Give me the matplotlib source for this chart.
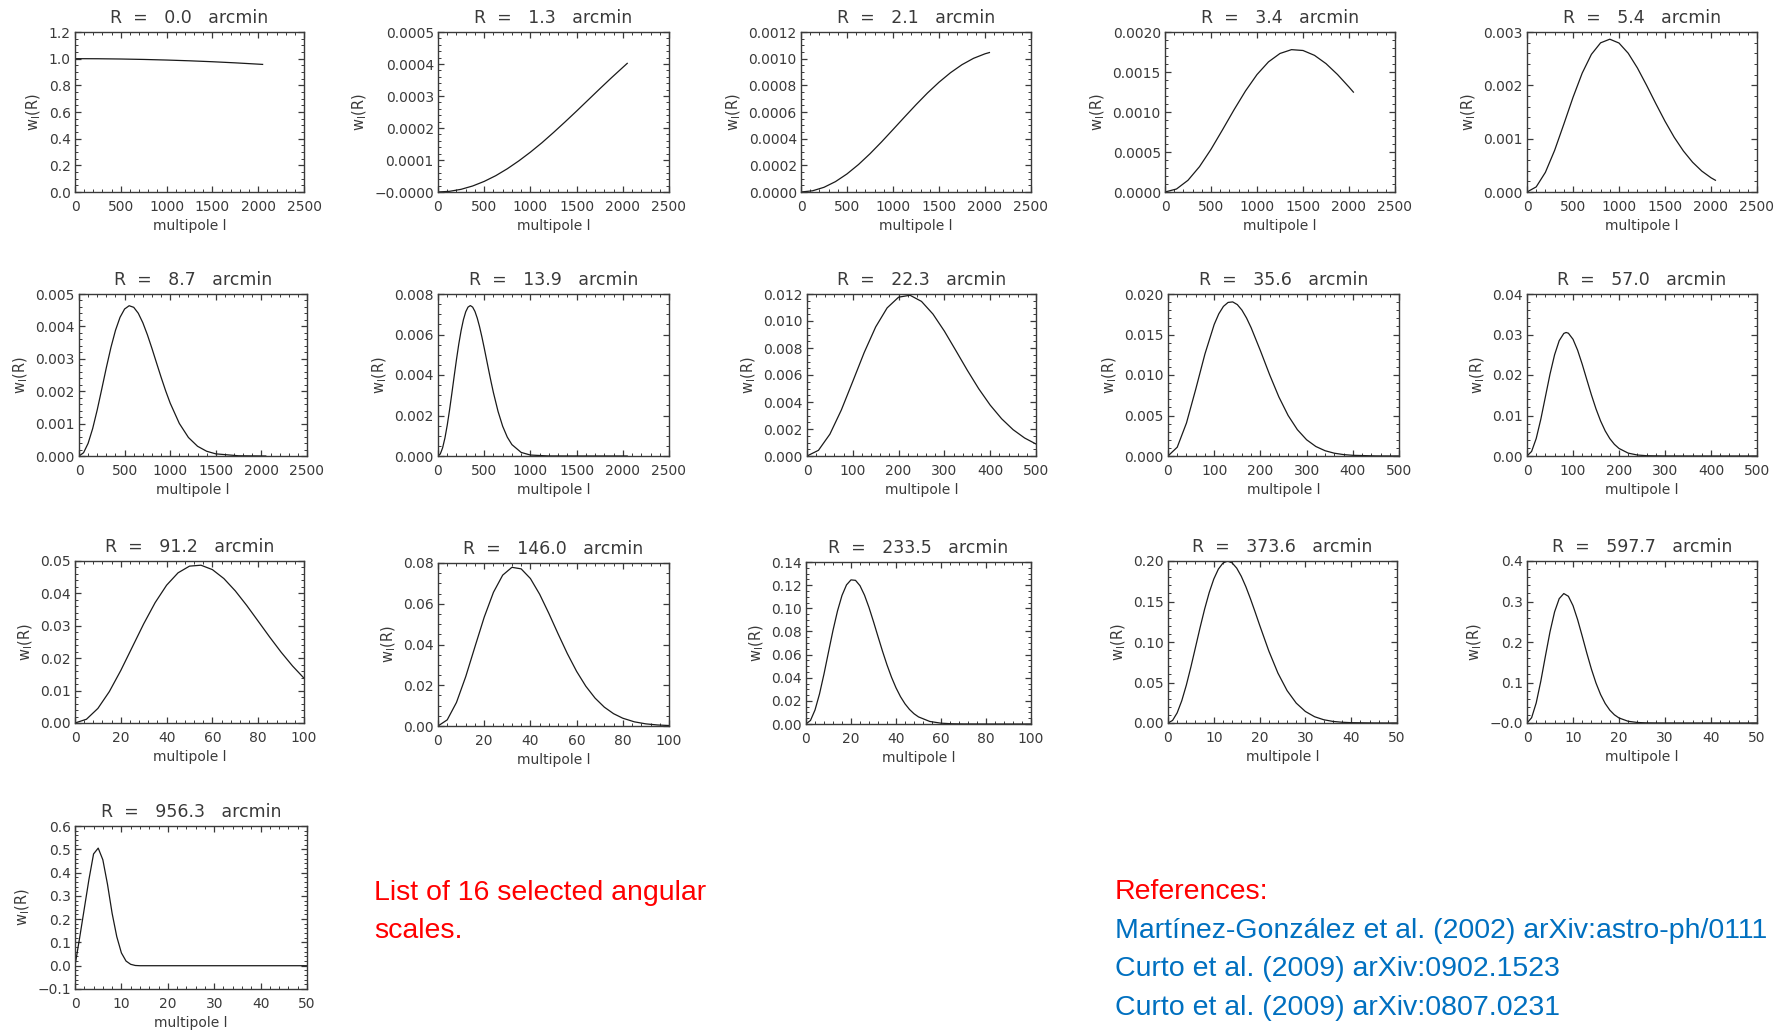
import numpy as np
import matplotlib.pyplot as plt
from matplotlib.ticker import AutoMinorLocator

plt.rcParams['font.family'] = ['DejaVu Sans']

# angular scales (arcmin)
radii = [0.0, 1.3, 2.1, 3.4, 5.4, 8.7, 13.9, 22.3, 35.6, 57.0,
         91.2, 146.0, 233.5, 373.6, 597.7, 956.3]

# multipole samples and window values w_l(R)
ell_a = [0, 250, 500, 750, 1000, 1250, 1500, 1750, 2048]
ell_b = [0, 125, 250, 375, 500, 625, 750, 875, 1000, 1125, 1250, 1375,
         1500, 1625, 1750, 1875, 2000, 2048]
ell_p = [0, 100, 200, 300, 400, 500, 600, 700, 800, 900, 1000, 1100, 1200,
         1300, 1400, 1500, 1600, 1700, 1800, 1900, 2000, 2048]
ell_c = [0, 50, 100, 150, 200, 250, 300, 350, 400, 450, 500, 550, 600, 650,
         700, 750, 800, 850, 900, 950, 1000, 1100, 1200, 1300, 1400, 1500,
         1750, 2048]
ell_d = [0, 25, 50, 75, 100, 125, 150, 175, 200, 225, 250, 275, 300, 325,
         350, 375, 400, 425, 450, 475, 500, 525, 550, 575, 600, 650, 700,
         750, 800, 900, 1000, 1200, 1500, 2048]
ell_e = [0, 25, 50, 75, 100, 125, 150, 175, 200, 225, 250, 275, 300, 325,
         350, 375, 400, 425, 450, 475, 500]
ell_f = [0, 20, 40, 60, 80, 100, 110, 120, 130, 140, 150, 160, 170, 180,
         200, 220, 240, 260, 280, 300, 320, 340, 360, 380, 400, 450, 500]
ell_g = [0, 10, 20, 30, 40, 50, 60, 70, 80, 85, 90, 100, 110, 120, 130,
         140, 150, 160, 170, 180, 190, 200, 220, 240, 260, 300, 400, 500]
ell_h = [0, 5, 10, 15, 20, 25, 30, 35, 40, 45, 50, 55, 60, 65, 70, 75, 80,
         85, 90, 95, 100]
ell_i = [0, 4, 8, 12, 16, 20, 24, 28, 32, 36, 40, 44, 48, 52, 56, 60, 64,
         68, 72, 76, 80, 85, 90, 95, 100]
ell_j = [0, 2, 4, 6, 8, 10, 12, 14, 16, 18, 20, 22, 24, 26, 28, 30, 32, 34,
         36, 38, 40, 42, 44, 46, 48, 50, 55, 60, 65, 70, 80, 100]
ell_k = [0, 1, 2, 3, 4, 5, 6, 7, 8, 9, 10, 11, 12, 13, 14, 15, 16, 17, 18,
         19, 20, 22, 24, 26, 28, 30, 32, 34, 36, 38, 40, 45, 50]
ell_m = [0, 1, 2, 3, 4, 5, 6, 7, 8, 9, 10, 11, 12, 13, 14, 15, 16, 17, 18,
         19, 20, 22, 24, 26, 28, 30, 40, 50]
ell_n = [0, 1, 2, 3, 4, 5, 6, 7, 8, 9, 10, 11, 12, 13, 14, 15, 16, 20, 30,
         40, 50]

w_00 = [1.0, 0.9994, 0.9974, 0.9942, 0.9897, 0.9840, 0.9770, 0.9686, 0.957]
w_01 = [0, 2.1e-6, 8.4e-6, 1.88e-5, 3.31e-5, 5.10e-5, 7.26e-5, 9.73e-5,
        1.245e-4, 1.540e-4, 1.859e-4, 2.190e-4, 2.529e-4, 2.876e-4,
        3.223e-4, 3.564e-4, 3.894e-4, 4.020e-4]
w_02 = [0, 8.9e-6, 3.52e-5, 7.80e-5, 1.356e-4, 2.061e-4, 2.869e-4,
        3.753e-4, 4.683e-4, 5.621e-4, 6.546e-4, 7.428e-4, 8.233e-4,
        8.947e-4, 9.550e-4, 1.0025e-3, 1.0365e-3, 1.0459e-3]
w_03 = [0, 3.75e-5, 1.466e-4, 3.170e-4, 5.334e-4, 7.773e-4, 1.0271e-3,
        1.2631e-3, 1.4682e-3, 1.6268e-3, 1.7317e-3, 1.7794e-3, 1.7688e-3,
        1.7081e-3, 1.6048e-3, 1.4687e-3, 1.3117e-3, 1.2484e-3]
w_04 = [0, 9.57e-5, 3.689e-4, 7.797e-4, 1.2706e-3, 1.774e-3, 2.229e-3,
        2.581e-3, 2.797e-3, 2.865e-3, 2.793e-3, 2.602e-3, 2.326e-3,
        2.000e-3, 1.658e-3, 1.327e-3, 1.026e-3, 7.69e-4, 5.58e-4, 3.92e-4,
        2.67e-4, 2.20e-4]
w_05 = [0, 1.01e-4, 3.92e-4, 8.48e-4, 1.426e-3, 2.072e-3, 2.731e-3,
        3.349e-3, 3.878e-3, 4.281e-3, 4.537e-3, 4.638e-3, 4.589e-3,
        4.406e-3, 4.113e-3, 3.741e-3, 3.319e-3, 2.874e-3, 2.433e-3,
        2.013e-3, 1.631e-3, 1.005e-3, 5.71e-4, 3.00e-4, 1.46e-4, 6.6e-5,
        7e-6, 0]
w_06 = [0, 1.03e-4, 4.05e-4, 8.88e-4, 1.523e-3, 2.273e-3, 3.094e-3,
        3.940e-3, 4.765e-3, 5.531e-3, 6.193e-3, 6.730e-3, 7.121e-3,
        7.353e-3, 7.428e-3, 7.352e-3, 7.138e-3, 6.806e-3, 6.380e-3,
        5.882e-3, 5.339e-3, 4.772e-3, 4.204e-3, 3.650e-3, 3.125e-3,
        2.199e-3, 1.468e-3, 9.31e-4, 5.62e-4, 1.77e-4, 4.7e-5, 2e-6, 0, 0]
w_07 = [0, 4.21e-4, 1.619e-3, 3.410e-3, 5.529e-3, 7.675e-3, 9.564e-3,
        1.0972e-2, 1.1765e-2, 1.1908e-2, 1.1451e-2, 1.0514e-2, 9.247e-3,
        7.810e-3, 6.353e-3, 4.979e-3, 3.769e-3, 2.757e-3, 1.950e-3,
        1.336e-3, 8.87e-4]
w_08 = [0, 1.087e-3, 4.077e-3, 8.240e-3, 1.2607e-2, 1.6240e-2, 1.7557e-2,
        1.8472e-2, 1.8958e-2, 1.9024e-2, 1.8694e-2, 1.8012e-2, 1.7037e-2,
        1.5829e-2, 1.3004e-2, 1.0032e-2, 7.289e-3, 5.004e-3, 3.252e-3,
        2.004e-3, 1.173e-3, 6.52e-4, 3.45e-4, 1.74e-4, 8.4e-5, 1.1e-5, 0]
w_09 = [0, 1.124e-3, 4.315e-3, 9.063e-3, 1.4633e-2, 2.0205e-2, 2.5010e-2,
        2.8474e-2, 3.0259e-2, 3.0497e-2, 3.0317e-2, 2.8825e-2, 2.6131e-2,
        2.2670e-2, 1.8866e-2, 1.5099e-2, 1.1635e-2, 8.644e-3, 6.198e-3,
        4.295e-3, 2.879e-3, 1.866e-3, 7.11e-4, 2.39e-4, 7.1e-5, 3e-6, 0, 0]
w_10 = [0, 1.157e-3, 4.506e-3, 9.703e-3, 1.6220e-2, 2.3413e-2, 3.0606e-2,
        3.7158e-2, 4.2531e-2, 4.6352e-2, 4.8415e-2, 4.8701e-2, 4.7342e-2,
        4.4587e-2, 4.0773e-2, 3.6273e-2, 3.1415e-2, 2.6538e-2, 2.1865e-2,
        1.7592e-2, 1.3830e-2]
w_11 = [0, 3.020e-3, 1.1569e-2, 2.4218e-2, 3.8917e-2, 5.3400e-2, 6.5613e-2,
        7.4035e-2, 7.7883e-2, 7.7122e-2, 7.2388e-2, 6.4674e-2, 5.5237e-2,
        4.5200e-2, 3.5511e-2, 2.6819e-2, 1.9507e-2, 1.3682e-2, 9.252e-3,
        6.048e-3, 3.819e-3, 2.046e-3, 1.043e-3, 5.04e-4, 2.33e-4]
w_12 = [0, 3.105e-3, 1.2080e-2, 2.5955e-2, 4.3256e-2, 6.2200e-2, 8.0930e-2,
        9.7701e-2, 0.111111, 0.120213, 0.124549, 0.124155, 0.119504,
        0.111354, 0.100676, 8.8428e-2, 7.5582e-2, 6.2939e-2, 5.1088e-2,
        4.0453e-2, 3.1273e-2, 2.3613e-2, 1.7431e-2, 1.2578e-2, 8.876e-3,
        6.132e-3, 2.209e-3, 6.98e-4, 1.94e-4, 5e-5, 0, 0]
w_13 = [0, 3.190e-3, 1.2536e-2, 2.7386e-2, 4.6712e-2, 6.9210e-2, 9.3391e-2,
        0.117729, 0.140730, 0.161099, 0.177778, 0.190027, 0.197426,
        0.199904, 0.197663, 0.191210, 0.181146, 0.168265, 0.153419,
        0.137418, 0.120932, 8.9114e-2, 6.1603e-2, 4.0042e-2, 2.4542e-2,
        1.4201e-2, 7.768e-3, 4.021e-3, 1.973e-3, 9.18e-4, 4.05e-4, 4e-5, 0]
w_14 = [0, 1.2942e-2, 4.9477e-2, 0.103214, 0.165066, 0.225119, 0.274517,
        0.307000, 0.319627, 0.312876, 0.289840, 0.255328, 0.214652,
        0.172669, 0.133119, 9.8594e-2, 7.0233e-2, 4.8126e-2, 3.1791e-2,
        2.0233e-2, 1.2440e-2, 4.229e-3, 1.256e-3, 3.26e-4, 7.4e-5, 0, 0, 0]
w_15 = [0, 0.12, 0.245, 0.37, 0.48, 0.505, 0.455, 0.35, 0.225, 0.125,
        0.055, 0.02, 0.006, 0.001, 0, 0, 0, 0, 0, 0, 0]

# tick labels
xlab_2500 = ['0', '500', '1000', '1500', '2000', '2500']
xlab_500 = ['0', '100', '200', '300', '400', '500']
xlab_100 = ['0', '20', '40', '60', '80', '100']
xlab_50 = ['0', '10', '20', '30', '40', '50']

ylab = [
    ['0.0', '0.2', '0.4', '0.6', '0.8', '1.0', '1.2'],
    ['\u22120.0000', '0.0001', '0.0002', '0.0003', '0.0004', '0.0005'],
    ['0.0000', '0.0002', '0.0004', '0.0006', '0.0008', '0.0010', '0.0012'],
    ['0.0000', '0.0005', '0.0010', '0.0015', '0.0020'],
    ['0.000', '0.001', '0.002', '0.003'],
    ['0.000', '0.001', '0.002', '0.003', '0.004', '0.005'],
    ['0.000', '0.002', '0.004', '0.006', '0.008'],
    ['0.000', '0.002', '0.004', '0.006', '0.008', '0.010', '0.012'],
    ['0.000', '0.005', '0.010', '0.015', '0.020'],
    ['0.00', '0.01', '0.02', '0.03', '0.04'],
    ['0.00', '0.01', '0.02', '0.03', '0.04', '0.05'],
    ['0.00', '0.02', '0.04', '0.06', '0.08'],
    ['0.00', '0.02', '0.04', '0.06', '0.08', '0.10', '0.12', '0.14'],
    ['0.00', '0.05', '0.10', '0.15', '0.20'],
    ['\u22120.0', '0.1', '0.2', '0.3', '0.4'],
    ['\u22120.1', '0.0', '0.1', '0.2', '0.3', '0.4', '0.5', '0.6'],
]
ylims = [(0, 1.2), (0, 0.0005), (0, 0.0012), (0, 0.002), (0, 0.003),
         (0, 0.005), (0, 0.008), (0, 0.012), (0, 0.02), (0, 0.04),
         (0, 0.05), (0, 0.08), (0, 0.14), (0, 0.2), (0, 0.4), (-0.1, 0.6)]

ells = [ell_a, ell_b, ell_b, ell_b, ell_p, ell_c, ell_d, ell_e, ell_f, ell_g,
        ell_h, ell_i, ell_j, ell_k, ell_m, ell_n]
wins = [w_00, w_01, w_02, w_03, w_04, w_05, w_06, w_07, w_08, w_09,
        w_10, w_11, w_12, w_13, w_14, w_15]
xlabs = [xlab_2500] * 7 + [xlab_500] * 3 + [xlab_100] * 3 + [xlab_50] * 3

# axes boxes in pixels: left, top, right, bottom
boxes = [
    (75, 32, 304, 192), (438, 32, 669, 192), (801, 32, 1031, 192),
    (1165, 32, 1395, 192), (1527, 32, 1757, 192),
    (79, 294, 307, 456), (438, 294, 669, 456), (807, 294, 1036, 456),
    (1168, 294, 1399, 456), (1527, 294, 1757, 456),
    (75, 561, 304, 723), (438, 563, 669, 726), (806, 562, 1031, 724),
    (1168, 561, 1397, 723), (1527, 561, 1757, 723),
    (75, 826, 307, 989),
]

W, H = 1789, 1034
fig = plt.figure(figsize=(W / 100, H / 100), dpi=100)
txt_col = '#3a3a3a'

for i in range(16):
    x0, y0, x1, y1 = boxes[i]
    ax = fig.add_axes([x0 / W, 1 - y1 / H, (x1 - x0) / W, (y1 - y0) / H])
    ax.plot(ells[i], wins[i], color='#1a1a1a', lw=0.9)
    xl = xlabs[i]
    xmax = float(xl[-1])
    ax.set_xlim(0, xmax)
    ax.set_ylim(*ylims[i])
    ax.set_xticks(np.linspace(0, xmax, len(xl)))
    ax.set_xticklabels(xl)
    ax.set_yticks(np.linspace(ylims[i][0], ylims[i][1], len(ylab[i])))
    ax.set_yticklabels(ylab[i])
    ax.xaxis.set_minor_locator(AutoMinorLocator(5))
    ax.yaxis.set_minor_locator(AutoMinorLocator())
    ax.tick_params(which='both', direction='in', top=True, right=True,
                   labelsize=10, color=txt_col, labelcolor=txt_col)
    ax.tick_params(which='major', length=4.5, width=0.9)
    ax.tick_params(which='minor', length=2.2, width=0.7)
    ax.tick_params(axis='x', which='major', pad=5.5)
    ax.tick_params(axis='y', which='major', pad=3)
    for s in ax.spines.values():
        s.set_linewidth(1.0)
        s.set_color(txt_col)
    ax.set_title('R  =   %.1f   arcmin' % radii[i], fontsize=12.5,
                 color=txt_col, pad=6.5)
    ax.set_xlabel('multipole l', fontsize=10, color=txt_col, labelpad=4)
    ax.set_ylabel(r'w$_\mathregular{l}$(R)', fontsize=10.5, color=txt_col,
                  labelpad=4)

note_font = ['Liberation Sans', 'DejaVu Sans']
fig.text(374 / W, 1 - 893 / H, 'List of 16 selected angular', color='red',
         fontsize=20.5, family=note_font, va='center')
fig.text(374 / W, 1 - 931 / H, 'scales.', color='red',
         fontsize=20.5, family=note_font, va='center')

refs = ['Mart\u00ednez-Gonz\u00e1lez et al. (2002) arXiv:astro-ph/0111',
        'Curto et al. (2009) arXiv:0902.1523',
        'Curto et al. (2009) arXiv:0807.0231']
ref_texts = [fig.text(1115 / W, 1 - 892 / H, 'References:', color='red',
                      fontsize=20.5, family=note_font, va='center')]
for k, txt in enumerate(refs):
    ref_texts.append(fig.text(1115 / W, 1 - (931 + 38.5 * k) / H, txt,
                              color='#0070C0', fontsize=20.5,
                              family=note_font, va='center'))

# shrink the reference block until the longest line fits in the figure
renderer = fig.canvas.get_renderer()
size = 20.5
while ref_texts[1].get_window_extent(renderer).x1 > W - 3 and size > 12:
    size -= 0.25
    for t in ref_texts:
        t.set_fontsize(size)

fig.savefig('out.png', dpi=100)
